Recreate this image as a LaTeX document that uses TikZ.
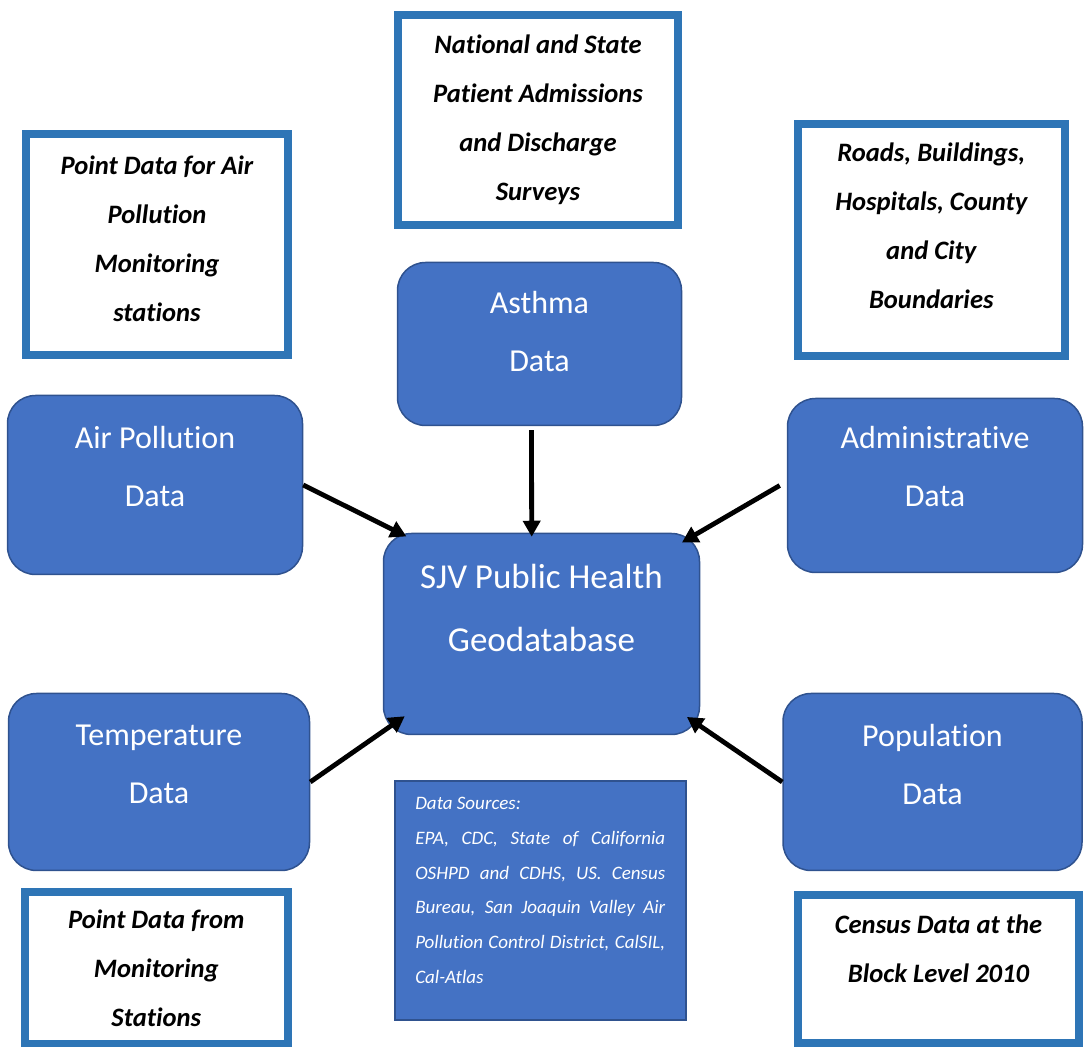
\documentclass[tikz,border=0pt]{standalone}
\usepackage{fontspec}
\setmainfont{Carlito}[Ligatures=NoCommon]
\usepackage{xcolor}
\usepackage{tikz}
\usetikzlibrary{arrows.meta, positioning, calc}

\definecolor{boxBlue}{HTML}{4472C4}
\definecolor{boxEdge}{HTML}{2F528F}
\definecolor{srcEdge}{HTML}{2E75B6}

\begin{document}
\begin{tikzpicture}[
				x=0.5pt, y=-0.5pt,
				dataBox/.style={draw=boxEdge, fill=boxBlue, line width=0.75pt, rounded corners=14pt, text=white, align=center, font=\fontsize{16}{29}\selectfont},
				sourceBox/.style={draw=srcEdge, line width=4pt, align=center, font=\fontsize{13.3}{24.5}\selectfont\bfseries\itshape},
				feed/.style={line width=2.4pt, -{Triangle[length=8pt,width=8.5pt]}}
				]
				\path[use as bounding box, clip] (0,0) rectangle (1084,1047);

				% where the data comes from
				\node[sourceBox, minimum width=140pt, minimum height=105pt] (survey) at (538,120) {National and State\\Patient Admissions\\and Discharge\\Surveys};
				\node[sourceBox, minimum width=131pt, minimum height=110.5pt, text depth=6pt] (airSrc) at (157,244.5) {Point Data for Air\\Pollution\\Monitoring\\stations};
				\node[sourceBox, minimum width=133.3pt, minimum height=116pt, text depth=14pt] (roads) at (931.3,240) {Roads, Buildings,\\Hospitals, County\\and City\\Boundaries};
				\node[sourceBox, minimum width=131.7pt, minimum height=76pt] (tempSrc) at (156.3,968) {Point Data from\\Monitoring\\Stations};
				\node[sourceBox, minimum width=140.5pt, minimum height=74pt, text depth=20pt] (census) at (938.5,968.7) {Census Data at the\\Block Level 2010};

				% data layers
				\node[dataBox, minimum width=142pt, minimum height=81.5pt, text depth=13pt] (asthma) at (539.5,344) {Asthma\\Data};
				\node[dataBox, minimum width=147.5pt, minimum height=89.5pt, text depth=19pt] (airData) at (155,485) {Air Pollution\\Data};
				\node[dataBox, minimum width=147.5pt, minimum height=87pt, text depth=19pt] (admin) at (935,485.5) {Administrative\\Data};
				\node[dataBox, minimum width=158pt, minimum height=100.5pt, text depth=26pt, font=\fontsize{17.5}{31.5}\selectfont] (sjv) at (541.5,634) {SJV Public Health\\Geodatabase};
				\node[dataBox, minimum width=150.5pt, minimum height=88.5pt, text depth=17.5pt] (tempData) at (159,782) {Temperature\\Data};
				\node[dataBox, minimum width=149.5pt, minimum height=88.5pt, text depth=18pt] (popData) at (932.5,782) {Population\\Data};

				\node[draw=boxEdge, fill=boxBlue, line width=1pt, minimum width=145.5pt, minimum height=119.5pt, text depth=10pt, align=left, text=white, font=\fontsize{9.5}{17.35}\selectfont\itshape] (sources) at (540.3,900.3) {Data Sources:\\
					\makebox[125pt][s]{EPA, CDC, State of California}\\
					\makebox[125pt][s]{OSHPD and CDHS, US. Census}\\
					\makebox[125pt][s]{Bureau, San Joaquin Valley Air}\\
					\makebox[125pt][s]{Pollution Control District, CalSIL,}\\
					Cal-Atlas};

				% arrows into the geodatabase
				\draw[feed] (airData.east) -- ($(sjv.north west)+(23.7,3.7)$);
				\draw[feed] ([shift={(-8,4)}]asthma.south) -- ($(sjv.north)+(-9.8,4)$);
				\draw[feed] ([xshift=-3.5pt]admin.west) -- ($(sjv.north east)+(-18.3,9.7)$);
				\draw[feed] (tempData.east) -- ($(sjv.south west)+(22,-19)$);
				\draw[feed] (popData.west) -- ($(sjv.south east)+(-13.3,-18.3)$);
			\end{tikzpicture}
\end{document}
